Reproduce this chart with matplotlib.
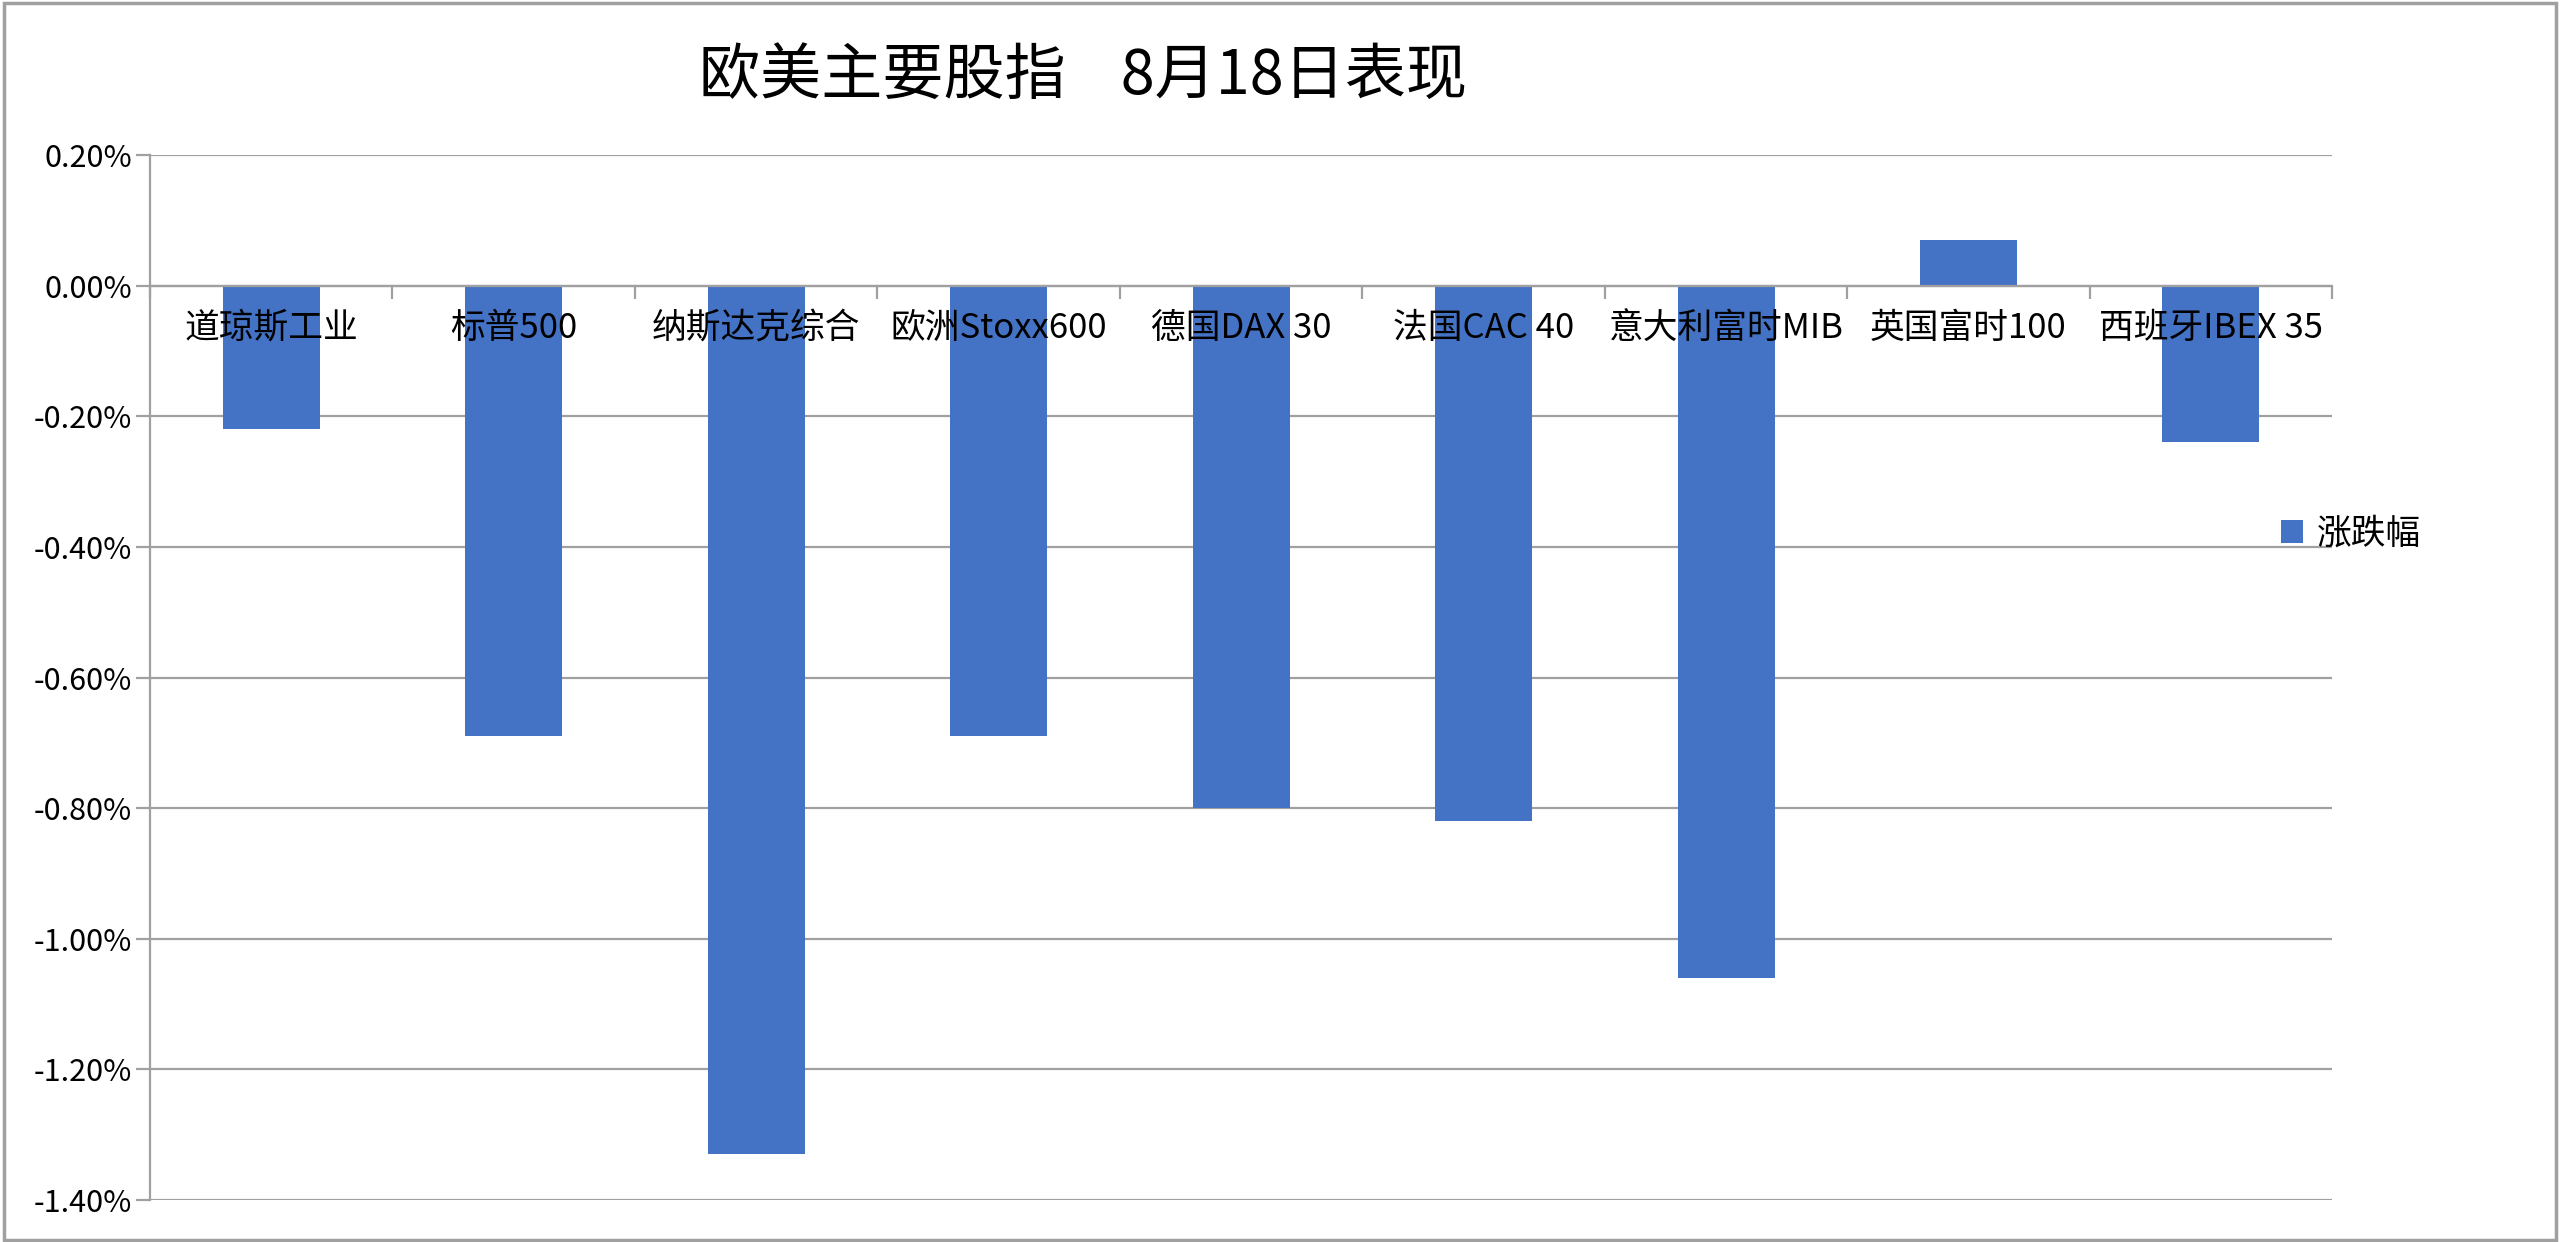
import numpy as np
import matplotlib
matplotlib.use("Agg")
import matplotlib.pyplot as plt
from matplotlib.patches import Rectangle
from matplotlib.ticker import FuncFormatter

plt.rcParams['font.family'] = ['Noto Sans CJK SC', 'DejaVu Sans']

# data
indices = ["道琼斯工业", "标普500", "纳斯达克综合", "欧洲Stoxx600", "德国DAX 30",
           "法国CAC 40", "意大利富时MIB", "英国富时100", "西班牙IBEX 35"]
change = [-0.22, -0.69, -1.33, -0.69, -0.80, -0.82, -1.06, 0.07, -0.24]   # percent
yticks = [0.2, 0.0, -0.2, -0.4, -0.6, -0.8, -1.0, -1.2, -1.4]
title = "欧美主要股指    8月18日表现"
series_name = "涨跌幅"

grey = "#a0a0a0"
blue = "#4472C4"

fig = plt.figure(figsize=(25.6, 12.42), dpi=100)
ax = fig.add_axes([0.0586, 0.0338, 0.8524, 0.8414])

x = np.arange(len(indices))
vals = np.array(change) / 100
# bars sit under the axis artists so the category labels stay readable
ax.bar(x, vals, width=0.4, color=blue, label=series_name, zorder=1.2)

# horizontal gridlines behind the bars
for t in yticks:
    ax.axhline(t / 100, color=grey, lw=1.6, zorder=0.5)

ax.set_xlim(-0.5, len(indices) - 0.5)
ax.set_ylim(min(yticks) / 100, max(yticks) / 100)
ax.set_yticks([t / 100 for t in yticks])
ax.yaxis.set_major_formatter(FuncFormatter(lambda v, p: f"{v*100:.2f}%"))
ax.tick_params(axis='y', length=10, width=1.6, color=grey, pad=3, labelsize=22)

# category axis at zero, labels under the zero line
ax.spines['bottom'].set_position(('data', 0))
ax.spines['bottom'].set_color(grey)
ax.spines['bottom'].set_linewidth(1.6)
ax.spines['left'].set_color(grey)
ax.spines['left'].set_linewidth(1.6)
ax.spines['top'].set_visible(False)
ax.spines['right'].set_visible(False)
ax.set_xticks(x)
ax.set_xticklabels(indices)
ax.set_xticks(np.arange(-0.5, len(indices), 1), minor=True)
ax.tick_params(axis='x', which='major', length=0, pad=18, labelsize=25)
ax.tick_params(axis='x', which='minor', length=9, width=1.6, color=grey)

ax.legend(loc='center left', bbox_to_anchor=(0.9765, 0.637), frameon=False,
          fontsize=25, handlelength=0.65, handleheight=0.65, handletextpad=0.4,
          borderpad=0, borderaxespad=0)

fig.text(0.423, 0.938, title, ha='center', va='center', fontsize=44)

# chart area border
fig.patches.append(Rectangle((0.0015, 0.0015), 0.997, 0.996, transform=fig.transFigure,
                             fill=False, edgecolor=grey, lw=2.5))

fig.savefig("out.png", dpi=100)
